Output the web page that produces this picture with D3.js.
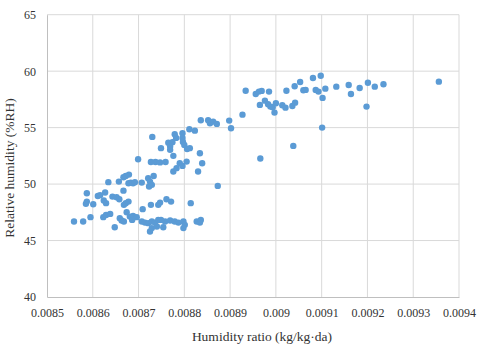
<html>
<head>
  <style>
    body { margin: 0; background: white; }
  </style>
  <script src="https://d3js.org/d3.v7.min.js"></script>
</head>
<body>
<script>
// humidity ratio (kg/kg-da) and relative humidity (%RH)
var humRatio = [
  0.00873, 0.008699, 0.008727, 0.008737, 0.008747, 0.008759, 0.008749, 0.008765, 0.008779, 0.008774,
  0.008769, 0.008776, 0.008776, 0.008783, 0.008796, 0.00879, 0.008796, 0.008796, 0.008797, 0.0088,
  0.008806, 0.008812, 0.008805, 0.008811, 0.008823, 0.008834, 0.008839, 0.00883, 0.008836, 0.008852,
  0.008856, 0.008863, 0.008871, 0.008898, 0.008902, 0.008769, 0.008782,
  0.008927, 0.008934, 0.008956, 0.008963, 0.008969, 0.008985, 0.008966, 0.008965, 0.008976, 0.008983,
  0.008988, 0.008993, 0.009, 0.008997, 0.009014, 0.009021, 0.009023, 0.009036, 0.009042, 0.009041,
  0.009053, 0.009038, 0.00906, 0.009065, 0.009081, 0.009098, 0.009087, 0.009093, 0.009108, 0.009102,
  0.009101, 0.009132, 0.009159, 0.009164, 0.009183, 0.009201, 0.009198, 0.009216, 0.009235, 0.009356,
  0.008559, 0.008579, 0.008595, 0.008587, 0.008587, 0.008585, 0.008601, 0.008611, 0.008616, 0.008623,
  0.008629, 0.008638, 0.008624, 0.008629, 0.008627, 0.008634, 0.008648, 0.008643, 0.008652, 0.008658,
  0.008657, 0.008667, 0.008672, 0.008679, 0.008667, 0.008668, 0.008672, 0.008678, 0.008674, 0.008659,
  0.008663, 0.008668, 0.008678, 0.008683, 0.008688, 0.008692, 0.008681, 0.008688, 0.008696, 0.008686,
  0.008709, 0.008707, 0.008721, 0.008725, 0.008723, 0.008729, 0.008733, 0.008727, 0.008707, 0.008714,
  0.008721, 0.008729, 0.008736, 0.008743, 0.008725, 0.008729, 0.00874, 0.008743, 0.008747, 0.008754,
  0.008761, 0.008771, 0.008758, 0.008769, 0.008779, 0.008787, 0.008798, 0.008801, 0.008798, 0.008814,
  0.008827, 0.008834, 0.008836, 0.008873, 0.008749
];
var relHum = [
  54.18, 52.2, 51.96, 51.96, 51.92, 51.96, 53.18, 53.67, 54.42, 53.71,
  53.32, 52.5, 51.11, 51.41, 51.61, 51.85, 54.5, 54.09, 53.73, 53.47,
  53.11, 53.18, 51.99, 54.86, 54.73, 52.73, 51.85, 51.11, 55.65, 55.65,
  55.39, 55.53, 55.33, 55.62, 54.95, 53.03, 54.09,
  56.15, 58.27, 57.98, 58.19, 58.25, 58.19, 52.26, 57.01, 57.39, 57.07,
  56.86, 56.8, 57.16, 56.33, 56.98, 56.77, 58.27, 56.92, 57.21, 58.66,
  59.04, 53.38, 58.31, 58.34, 59.4, 59.6, 58.34, 58.19, 58.45, 57.63,
  55.0, 58.63, 58.78, 57.98, 58.51, 58.98, 56.86, 58.63, 58.84, 59.07,
  46.68, 46.68, 47.07, 49.19, 48.45, 48.25, 48.22, 48.95, 49.02, 47.07,
  47.27, 47.36, 48.54, 48.31, 49.25, 50.17, 46.18, 48.89, 48.84, 48.66,
  50.22, 50.61, 50.72, 50.84, 49.42, 48.16, 48.31, 48.45, 47.51, 46.98,
  46.77, 46.68, 50.08, 50.13, 50.08, 50.17, 47.12, 47.18, 47.07, 46.83,
  47.78, 50.13, 50.52, 50.22, 49.78, 49.93, 50.72, 48.16, 46.68, 46.59,
  46.54, 46.68, 46.59, 46.83, 45.8, 46.1, 46.24, 48.16, 48.36, 46.18,
  48.66, 48.45, 46.68, 46.77, 46.68, 46.59, 46.68, 46.39, 46.1, 48.31,
  46.68, 46.59, 46.83, 49.84, 46.83
];
var xTicks = [0.0085, 0.0086, 0.0087, 0.0088, 0.0089, 0.009, 0.0091, 0.0092, 0.0093, 0.0094];
var yTicks = [40, 45, 50, 55, 60, 65];
var xTitle = "Humidity ratio (kg/kg\u00b7da)";
var yTitle = "Relative humidity (%RH)";

var serif = "'Liberation Serif', serif";
var screen = {width: 480, height: 353};
var margin = {top: 14.7, right: 21, bottom: 56, left: 47};

var xScale = d3.scaleLinear()
  .domain([0.0085, 0.0094])
  .range([margin.left, screen.width - margin.right]);
var yScale = d3.scaleLinear()
  .domain([40, 65])
  .range([screen.height - margin.bottom, margin.top]);

var svg = d3.select("body").append("svg")
  .attr("width", screen.width)
  .attr("height", screen.height);

// grid
svg.append("g").selectAll("line")
  .data(xTicks.slice(1))
  .enter().append("line")
  .attr("x1", function(d){ return xScale(d); })
  .attr("x2", function(d){ return xScale(d); })
  .attr("y1", yScale(40)).attr("y2", yScale(65))
  .style("stroke", "#d9d9d9").attr("stroke-width", 1);

svg.append("g").selectAll("line")
  .data(yTicks.slice(1))
  .enter().append("line")
  .attr("x1", xScale(0.0085)).attr("x2", xScale(0.0094))
  .attr("y1", function(d){ return yScale(d); })
  .attr("y2", function(d){ return yScale(d); })
  .style("stroke", "#d9d9d9").attr("stroke-width", 1);

// axes
var styleAxis = function(g){
  g.attr("font-family", null);
  g.select(".domain").style("stroke", "#bfbfbf");
  g.selectAll("text")
    .style("font-family", serif)
    .style("font-size", "12px")
    .style("fill", "#333");
};

var xAxis = d3.axisBottom(xScale).tickValues(xTicks).tickSize(0).tickPadding(11)
  .tickFormat(function(d){ return String(+d.toFixed(4)); });
svg.append("g")
  .attr("transform", "translate(0," + yScale(40) + ")")
  .call(xAxis)
  .call(styleAxis);

var yAxis = d3.axisLeft(yScale).tickValues(yTicks).tickSize(0).tickPadding(11);
svg.append("g")
  .attr("transform", "translate(" + xScale(0.0085) + ",0)")
  .call(yAxis)
  .call(styleAxis);

// points
svg.append("g").selectAll("circle")
  .data(d3.range(humRatio.length))
  .enter().append("circle")
  .attr("cx", function(i){ return xScale(humRatio[i]); })
  .attr("cy", function(i){ return yScale(relHum[i]); })
  .attr("r", 3.2)
  .attr("fill", "#5b9bd5");

// titles
svg.append("text")
  .attr("x", 262).attr("y", 341)
  .attr("text-anchor", "middle")
  .style("font-family", serif)
  .style("font-size", "13.5px")
  .style("fill", "#333")
  .text(xTitle);

svg.append("text")
  .attr("transform", "translate(14,168) rotate(-90)")
  .attr("text-anchor", "middle")
  .style("font-family", serif)
  .style("font-size", "13.5px")
  .style("fill", "#333")
  .text(yTitle);
</script>
</body>
</html>
